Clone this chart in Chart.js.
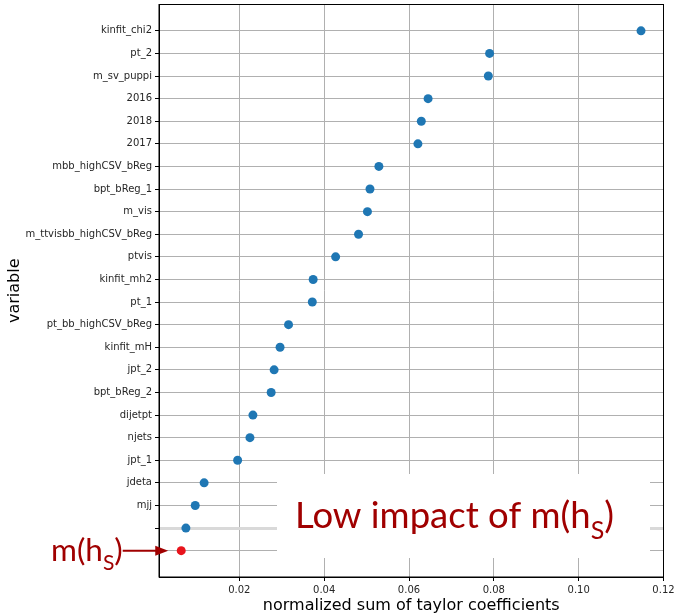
<!DOCTYPE html>
<html>
<head>
<meta charset="utf-8">
<script src="https://cdn.jsdelivr.net/npm/chart.js@4/dist/chart.umd.min.js"></script>
<style>
  html, body { margin: 0; padding: 0; background: #fff; }
  #wrap { width: 675px; height: 615px; }
</style>
</head>
<body>
<div id="wrap"><canvas id="chartTaylor"></canvas></div>
<script>
// Variables ordered from top to bottom, two unnamed rows at the end
const variables = [
    "kinfit_chi2", "pt_2", "m_sv_puppi", "2016", "2018", "2017",
    "mbb_highCSV_bReg", "bpt_bReg_1", "m_vis", "m_ttvisbb_highCSV_bReg",
    "ptvis", "kinfit_mh2", "pt_1", "pt_bb_highCSV_bReg", "kinfit_mH",
    "jpt_2", "bpt_bReg_2", "dijetpt", "njets", "jpt_1", "jdeta", "mjj", "", ""
];
const taylorSums = [
    0.1147, 0.0790, 0.0787, 0.0645, 0.0629, 0.0621,
    0.0529, 0.0508, 0.0502, 0.0481,
    0.0427, 0.0374, 0.0372, 0.0316, 0.0296,
    0.0282, 0.0275, 0.0232, 0.0225, 0.0196, 0.0117, 0.0096, 0.0074, 0.0063
];
const xTicks = [0.02, 0.04, 0.06, 0.08, 0.10, 0.12];

// last row is m(h_S), drawn in red
const mhsIndex = variables.length - 1;
const pointColors = taylorSums.map((v, i) => i === mhsIndex ? "#e8141c" : "#1f77b4");

const darkRed = "#a00000";

// white note box, label on the left and arrow pointing at the m(h_S) point
const notePlugin = {
    id: "notePlugin",
    afterDraw(chart) {
        const ctx = chart.ctx;
        const area = chart.chartArea;
        const xs = chart.scales.x;
        const ys = chart.scales.y;

        // frame around the plot
        ctx.save();
        ctx.strokeStyle = "#000";
        ctx.lineWidth = 1;
        ctx.strokeRect(area.left, area.top, area.right - area.left, area.bottom - area.top);

        // note box
        ctx.fillStyle = "#fff";
        ctx.fillRect(277, 474, 373, 84);

        function subText(str, sub, end, x, y, size) {
            ctx.fillStyle = darkRed;
            ctx.textBaseline = "alphabetic";
            ctx.textAlign = "left";
            ctx.font = size + "px Lato";
            ctx.fillText(str, x, y);
            x += ctx.measureText(str).width;
            const subSize = Math.round(size * 0.68);
            ctx.font = subSize + "px Lato";
            ctx.fillText(sub, x, y + size * 0.3);
            x += ctx.measureText(sub).width;
            ctx.font = size + "px Lato";
            ctx.fillText(end, x, y);
            return x + ctx.measureText(end).width;
        }

        subText("Low impact of m(h", "S", ")", 295, 528, 36.5);

        const py = ys.getPixelForValue(mhsIndex);
        const px = xs.getPixelForValue(taylorSums[mhsIndex]);
        const labelEnd = subText("m(h", "S", ")", 51, 561, 31.5);

        // arrow
        const tip = px - 13;
        ctx.strokeStyle = darkRed;
        ctx.fillStyle = darkRed;
        ctx.lineWidth = 2;
        ctx.beginPath();
        ctx.moveTo(labelEnd, py);
        ctx.lineTo(tip - 10, py);
        ctx.stroke();
        ctx.beginPath();
        ctx.moveTo(tip, py);
        ctx.lineTo(tip - 13, py - 5);
        ctx.lineTo(tip - 13, py + 5);
        ctx.closePath();
        ctx.fill();
        ctx.restore();
    }
};

new Chart(document.getElementById("chartTaylor"), {
    type: "scatter",
    data: {
        datasets: [{
            data: taylorSums.map((v, i) => ({ x: v, y: i })),
            pointBackgroundColor: pointColors,
            pointBorderWidth: 0,
            pointRadius: 4.5,
            pointHoverRadius: 4.5
        }]
    },
    options: {
        responsive: true,
        maintainAspectRatio: false,
        animation: false,
        layout: { padding: { top: 4, right: 11.5, left: 0, bottom: 0 } },
        plugins: {
            legend: { display: false },
            tooltip: { enabled: false }
        },
        scales: {
            x: {
                type: "linear",
                min: 0.00106,
                max: 0.12,
                afterBuildTicks: scale => { scale.ticks = xTicks.map(v => ({ value: v })); },
                afterFit: scale => {
                    scale.height = 38;
                    scale.paddingLeft = 0;
                    scale.paddingRight = 0;
                },
                ticks: {
                    color: "#262626",
                    font: { family: "DejaVu Sans", size: 10 },
                    padding: 3,
                    maxRotation: 0,
                    callback: v => v.toFixed(2)
                },
                grid: { color: "#b0b0b0", lineWidth: 1, tickColor: "#000", tickWidth: 1, tickLength: 4 },
                border: { color: "#000" },
                title: {
                    display: true,
                    text: "normalized sum of taylor coefficients",
                    color: "#000",
                    font: { family: "DejaVu Sans", size: 16 },
                    padding: { top: 0, bottom: 0 }
                }
            },
            y: {
                type: "linear",
                reverse: true,
                min: -1.165,
                max: variables.length - 1 + 1.165,
                afterBuildTicks: scale => { scale.ticks = variables.map((_, i) => ({ value: i })); },
                afterFit: scale => {
                    scale.width = 159;
                    scale.paddingTop = 0;
                    scale.paddingBottom = 0;
                },
                ticks: {
                    color: "#262626",
                    font: { family: "DejaVu Sans", size: 10 },
                    padding: 3,
                    callback: v => variables[v]
                },
                grid: {
                    color: c => c.tick && c.tick.value === mhsIndex - 1 ? "#d9d9d9" : "#b0b0b0",
                    lineWidth: c => c.tick && c.tick.value === mhsIndex - 1 ? 3 : 1,
                    tickColor: "#000",
                    tickWidth: 1,
                    tickLength: 4
                },
                border: { color: "#000" },
                title: {
                    display: true,
                    text: "variable",
                    color: "#000",
                    font: { family: "DejaVu Sans", size: 16 },
                    padding: { top: 5, bottom: 0 }
                }
            }
        }
    },
    plugins: [notePlugin]
});
</script>
</body>
</html>
